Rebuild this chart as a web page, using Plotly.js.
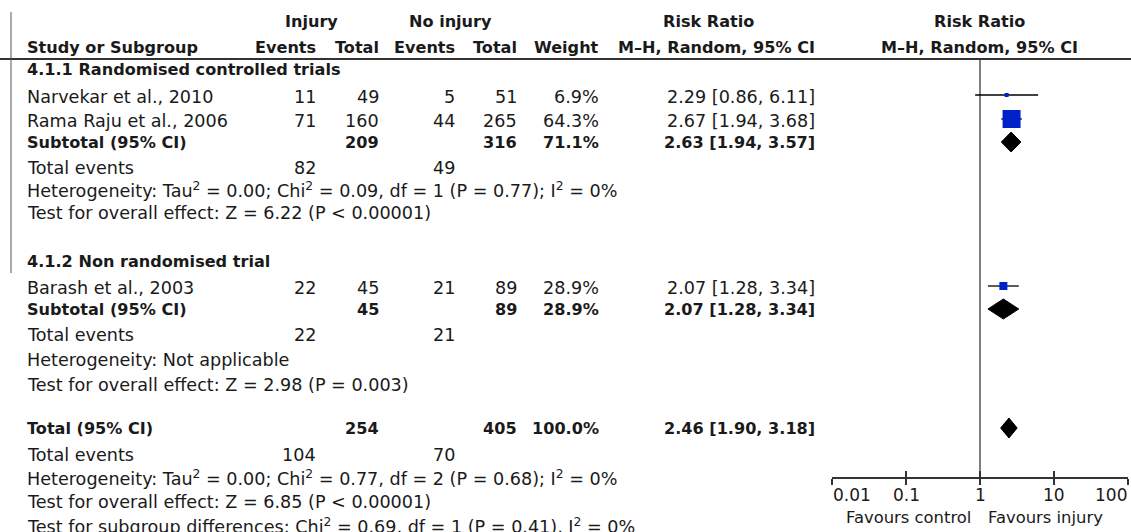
<!DOCTYPE html>
<html>
<head>
<meta charset="utf-8">
<script src="https://cdn.plot.ly/plotly-3.0.1.min.js"></script>
<style>html,body{margin:0;padding:0;background:#fff;}#chart{width:1131px;height:532px;}</style>
</head>
<body>
<div id="chart"></div>
<script>
// ---------------- DATA ----------------
const studies      = ['Narvekar et al., 2010', 'Rama Raju et al., 2006', 'Barash et al., 2003'];
const studyGroup   = [0, 0, 1];
const injEvents    = [11, 71, 22];
const injTotal     = [49, 160, 45];
const noEvents     = [5, 44, 21];
const noTotal      = [51, 265, 89];
const weights      = [6.9, 64.3, 28.9];
const rr           = [2.29, 2.67, 2.07];
const rrLo         = [0.86, 1.94, 1.28];
const rrHi         = [6.11, 3.68, 3.34];

const groupNames     = ['4.1.1 Randomised controlled trials', '4.1.2 Non randomised trial'];
const groupInjTotal  = [209, 45];
const groupNoTotal   = [316, 89];
const groupWeight    = [71.1, 28.9];
const groupRR        = [2.63, 2.07];
const groupLo        = [1.94, 1.28];
const groupHi        = [3.57, 3.34];
const groupInjEvents = [82, 22];
const groupNoEvents  = [49, 21];
const groupHet  = ['Heterogeneity: Tau<sup>2</sup> = 0.00; Chi<sup>2</sup> = 0.09, df = 1 (P = 0.77); I<sup>2</sup> = 0%',
                   'Heterogeneity: Not applicable'];
const groupTest = ['Test for overall effect: Z = 6.22 (P &lt; 0.00001)',
                   'Test for overall effect: Z = 2.98 (P = 0.003)'];

const totalInjTotal = 254, totalNoTotal = 405, totalWeight = 100.0;
const totalRR = 2.46, totalLo = 1.90, totalHi = 3.18;
const totalInjEvents = 104, totalNoEvents = 70;
const totalHet  = 'Heterogeneity: Tau<sup>2</sup> = 0.00; Chi<sup>2</sup> = 0.77, df = 2 (P = 0.68); I<sup>2</sup> = 0%';
const totalTest = 'Test for overall effect: Z = 6.85 (P &lt; 0.00001)';
const subgroupTest = 'Test for subgroup differences: Chi<sup>2</sup> = 0.69, df = 1 (P = 0.41), I<sup>2</sup> = 0%';

const tickVals   = [0.01, 0.1, 1, 10, 100];
const tickLabels = ['0.01', '0.1', '1', '10', '100'];
const favLeft = 'Favours control', favRight = 'Favours injury';

// ---------------- LAYOUT (pixels) ----------------
const W = 1131, H = 532, AXY = 477;
const FONT = 'DejaVu Sans', FS = 17.6, FSB = 16.1, FSAX = 17, COL = '#1a1a1a';
const colX = {name: 26, injEv: 317, injTot: 380, noEv: 456, noTot: 518, wt: 600, rr: 816};
const groupRows = [ // y pixel centres
  {title: 70,  studies: [97, 121], sub: 142, ev: 168, het: 190, test: 213},
  {title: 262, studies: [288],     sub: 309, ev: 335, het: 360, test: 385}
];
const totalRows = {tot: 428, ev: 455, het: 478, test: 502, sg: 526};
const markStyle = {sizeFor: w => w > 50 ? 18 : (w > 20 ? 8 : 4)};

const anns = [];
function ann(text, x, y, anchor, bold, size) {
  anns.push({text: bold ? '<b>' + text + '</b>' : text, xref: 'paper', yref: 'paper',
    x: x / W, y: 1 - y / H, xanchor: anchor, yanchor: 'middle', showarrow: false,
    borderpad: 0, font: {family: FONT, size: size || (bold ? FSB : FS), color: COL}});
}
const pct = v => v.toFixed(1) + '%';
const ci = (e, l, h) => e.toFixed(2) + ' [' + l.toFixed(2) + ', ' + h.toFixed(2) + ']';

// headers
ann('Injury', 311, 22, 'center', true);
ann('No injury', 450, 22, 'center', true);
ann('Risk Ratio', 708, 22, 'center', true);
ann('Risk Ratio', 979, 22, 'center', true);
ann('Study or Subgroup', colX.name, 47, 'left', true);
ann('Events', colX.injEv, 47, 'right', true);
ann('Total', colX.injTot, 47, 'right', true);
ann('Events', colX.noEv, 47, 'right', true);
ann('Total', colX.noTot, 47, 'right', true);
ann('Weight', colX.wt, 47, 'right', true);
ann('M\u2013H, Random, 95% CI', colX.rr, 47, 'right', true);
ann('M\u2013H, Random, 95% CI', 979, 47, 'center', true);

// forest traces data
const ciX = [], ciY = [], sqX = [], sqY = [], sqS = [];
const diamonds = [];
function diamond(est, lo, hi, y) {
  diamonds.push({type: 'scatter', mode: 'lines', x: [lo, est, hi, est, lo], y: [y, y - 10, y, y + 10, y],
    fill: 'toself', fillcolor: '#000', line: {color: '#000', width: 1}, hoverinfo: 'skip', showlegend: false});
}

groupNames.forEach((g, gi) => {
  const R = groupRows[gi];
  ann(g, colX.name, R.title, 'left', true);
  let k = 0;
  studies.forEach((s, i) => {
    if (studyGroup[i] !== gi) return;
    const y = R.studies[k++];
    ann(s, colX.name, y, 'left');
    ann(String(injEvents[i]), colX.injEv, y, 'right');
    ann(String(injTotal[i]), colX.injTot, y, 'right');
    ann(String(noEvents[i]), colX.noEv, y, 'right');
    ann(String(noTotal[i]), colX.noTot, y, 'right');
    ann(pct(weights[i]), colX.wt, y, 'right');
    ann(ci(rr[i], rrLo[i], rrHi[i]), colX.rr, y, 'right');
    ciX.push(rrLo[i], rrHi[i], null); ciY.push(y - 2, y - 2, null);
    sqX.push(rr[i]); sqY.push(y - 2); sqS.push(markStyle.sizeFor(weights[i]));
  });
  ann('Subtotal (95% CI)', colX.name, R.sub, 'left', true);
  ann(String(groupInjTotal[gi]), colX.injTot, R.sub, 'right', true);
  ann(String(groupNoTotal[gi]), colX.noTot, R.sub, 'right', true);
  ann(pct(groupWeight[gi]), colX.wt, R.sub, 'right', true);
  ann(ci(groupRR[gi], groupLo[gi], groupHi[gi]), colX.rr, R.sub, 'right', true);
  diamond(groupRR[gi], groupLo[gi], groupHi[gi], R.sub);
  ann('Total events', colX.name, R.ev, 'left');
  ann(String(groupInjEvents[gi]), colX.injEv, R.ev, 'right');
  ann(String(groupNoEvents[gi]), colX.noEv, R.ev, 'right');
  ann(groupHet[gi], colX.name, R.het, 'left');
  ann(groupTest[gi], colX.name, R.test, 'left');
});

ann('Total (95% CI)', colX.name, totalRows.tot, 'left', true);
ann(String(totalInjTotal), colX.injTot, totalRows.tot, 'right', true);
ann(String(totalNoTotal), colX.noTot, totalRows.tot, 'right', true);
ann(pct(totalWeight), colX.wt, totalRows.tot, 'right', true);
ann(ci(totalRR, totalLo, totalHi), colX.rr, totalRows.tot, 'right', true);
diamond(totalRR, totalLo, totalHi, totalRows.tot);
ann('Total events', colX.name, totalRows.ev, 'left');
ann(String(totalInjEvents), colX.injEv, totalRows.ev, 'right');
ann(String(totalNoEvents), colX.noEv, totalRows.ev, 'right');
ann(totalHet, colX.name, totalRows.het, 'left');
ann(totalTest, colX.name, totalRows.test, 'left');
ann(subgroupTest, colX.name, totalRows.sg, 'left');

// axis tick labels and favours labels (positioned through the x axis)
tickVals.forEach((v, i) => {
  const anchor = i === 0 ? 'left' : (i === tickVals.length - 1 ? 'right' : 'center');
  anns.push({text: tickLabels[i], xref: 'x', yref: 'paper', x: Math.log10(v), y: 1 - 495 / H,
    xanchor: anchor, yanchor: 'middle', showarrow: false, borderpad: 0,
    font: {family: FONT, size: FSAX, color: COL}});
});
anns.push({text: favLeft, xref: 'x', yref: 'paper', x: 0, xshift: -8, y: 1 - 517 / H, xanchor: 'right',
  yanchor: 'middle', showarrow: false, borderpad: 0, font: {family: FONT, size: 16.4, color: COL}});
anns.push({text: favRight, xref: 'x', yref: 'paper', x: 0, xshift: 7, y: 1 - 517 / H, xanchor: 'left',
  yanchor: 'middle', showarrow: false, borderpad: 0, font: {family: FONT, size: 16.4, color: COL}});

const traces = [
  {type: 'scatter', mode: 'lines', x: ciX, y: ciY, line: {color: '#000', width: 1.3},
   hoverinfo: 'skip', showlegend: false},
  {type: 'scatter', mode: 'markers', x: sqX, y: sqY,
   marker: {symbol: 'square', size: sqS, color: '#0020c8', opacity: 1, line: {width: 0}},
   hoverinfo: 'skip', showlegend: false},
  ...diamonds,
  {type: 'scatter', mode: 'markers', x: [], y: [], xaxis: 'x2', yaxis: 'y', hoverinfo: 'skip', showlegend: false}
];

const axBase = {type: 'log', range: [-2, 2], domain: [832 / W, 1128 / W], tickvals: tickVals,
  showticklabels: false, showgrid: false, zeroline: false, tickcolor: '#333', tickwidth: 1.5, ticklen: 6,
  fixedrange: true};

const layout = {
  width: W, height: H, margin: {l: 0, r: 0, t: 0, b: 0},
  paper_bgcolor: '#fff', plot_bgcolor: 'rgba(0,0,0,0)', showlegend: false,
  xaxis: Object.assign({}, axBase, {anchor: 'y', ticks: 'outside', showline: true, linecolor: '#333', linewidth: 1.5}),
  xaxis2: Object.assign({}, axBase, {anchor: 'y', overlaying: 'x', ticks: 'inside', showline: false}),
  yaxis: {range: [AXY, 0], domain: [1 - AXY / H, 1], visible: false, fixedrange: true},
  annotations: anns,
  shapes: [
    {type: 'line', xref: 'paper', yref: 'paper', x0: 0, x1: 1, y0: 1 - 59 / H, y1: 1 - 59 / H,
     line: {color: '#333', width: 2}},
    {type: 'line', xref: 'paper', yref: 'paper', x0: 11 / W, x1: 11 / W, y0: 1 - 12 / H, y1: 1 - 273 / H,
     line: {color: '#555', width: 1}},
    {type: 'line', xref: 'x', yref: 'y', x0: 1, x1: 1, y0: 59, y1: AXY, layer: 'below',
     line: {color: '#555', width: 1.5}}
  ]
};

Plotly.newPlot('chart', traces, layout, {staticPlot: true, displayModeBar: false});
</script>
</body>
</html>
